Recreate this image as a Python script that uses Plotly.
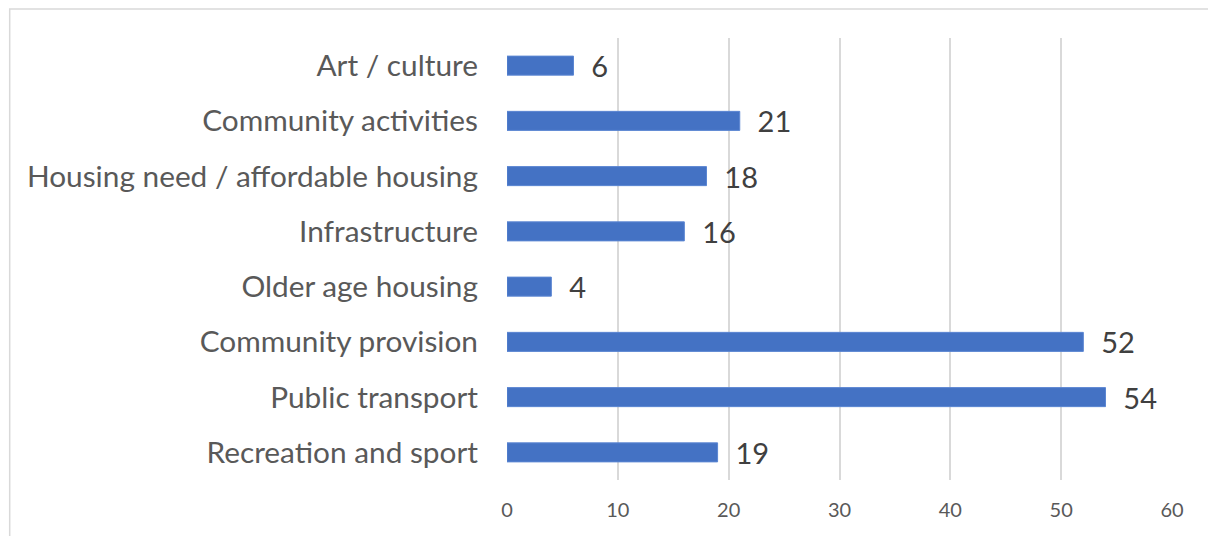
import plotly.graph_objects as go

categories = [
    "Art / culture",
    "Community activities",
    "Housing need / affordable housing",
    "Infrastructure",
    "Older age housing",
    "Community provision",
    "Public transport",
    "Recreation and sport",
]
values = [6, 21, 18, 16, 4, 52, 54, 19]
x_ticks = [0, 10, 20, 30, 40, 50, 60]

FONT = "Lato"

fig = go.Figure(
    go.Bar(
        x=values,
        y=categories,
        orientation="h",
        marker=dict(color="#4472C4", line=dict(color="#5b86d2", width=1)),
        text=values,
        texttemplate="\u00a0\u00a0%{x}",
        textposition="outside",
        constraintext="none",
        textfont=dict(family=FONT, size=29, color="#404040"),
        cliponaxis=False,
    )
)

fig.update_layout(
    width=1208,
    height=536,
    margin=dict(l=507, r=36, t=38, b=56),
    paper_bgcolor="white",
    plot_bgcolor="white",
    bargap=0.656,
    showlegend=False,
    xaxis=dict(
        range=[0, 60],
        tickvals=x_ticks,
        showgrid=True,
        gridcolor="#d9d9d9",
        gridwidth=1.5,
        zeroline=False,
        showline=False,
        ticks="",
        tickfont=dict(family=FONT, size=20, color="#595959"),
        ticklabelstandoff=16,
        fixedrange=True,
    ),
    yaxis=dict(
        autorange="reversed",
        showgrid=False,
        zeroline=False,
        showline=False,
        ticks="",
        tickfont=dict(family=FONT, size=29.8, color="#595959"),
        ticklabelstandoff=28,
        fixedrange=True,
    ),
    shapes=[
        dict(
            type="rect",
            xref="paper",
            yref="paper",
            x0=(10 - 507.3) / 665,
            x1=(1215 - 507.3) / 665,
            y0=(480.5 - 545) / 442.5,
            y1=(480.5 - 9) / 442.5,
            line=dict(color="#d9d9d9", width=1.5),
            fillcolor="rgba(0,0,0,0)",
            layer="below",
        )
    ],
)

fig.write_html(
    "out.html",
    config={"displayModeBar": False},
    post_script="document.body.style.margin='0';document.body.style.overflow='hidden';",
)
